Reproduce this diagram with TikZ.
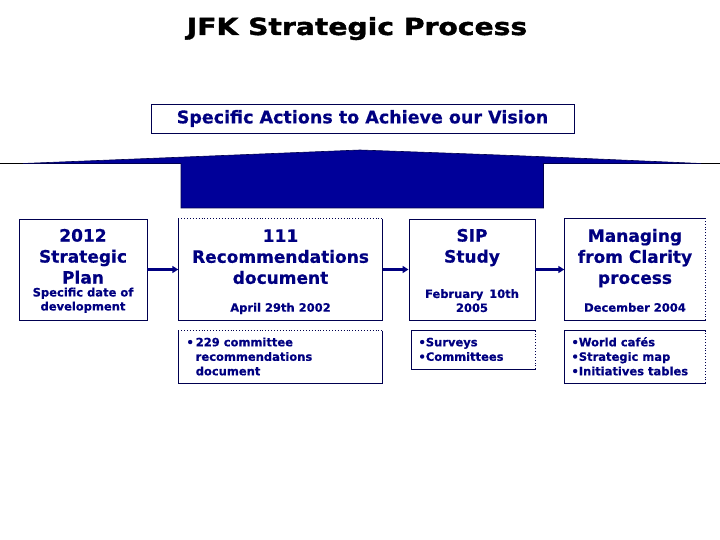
\documentclass[tikz,border=0pt]{standalone}
\usepackage{fontspec}
\setmainfont{DejaVu Sans}[BoldFeatures={FakeBold=0.6}]
\newfontfamily\titlefont{DejaVu Sans}[FakeStretch=1.2, BoldFeatures={FakeBold=1.6}]
\usetikzlibrary{arrows.meta}

\definecolor{jfknavy}{RGB}{0,0,128}
\definecolor{jfkblue}{RGB}{0,0,153}
\definecolor{jfkline}{RGB}{0,0,80}

\tikzset{
  boxline/.style={draw=jfkline, line width=0.9pt},
  stagebox/.style={rectangle, inner sep=0pt, minimum height=101pt},
  notebox/.style={rectangle, inner sep=0pt},
  headtext/.style={text=jfknavy, align=center, inner sep=0pt, anchor=base,
    font=\fontsize{17}{21}\selectfont\bfseries},
  datetext/.style={text=jfknavy, align=center, inner sep=0pt, anchor=base,
    font=\fontsize{11.5}{14}\selectfont\bfseries},
  notetext/.style={text=jfknavy, align=left, inner sep=0pt, anchor=base west,
    font=\fontsize{11.5}{14.5}\selectfont\bfseries},
  flow/.style={jfknavy, line width=2.5pt, -{Triangle[length=6pt,width=7pt]}},
}

\begin{document}
\begin{tikzpicture}[x=1pt, y=-1pt]
			\useasboundingbox (0,0) rectangle (720,540);

			% Title
			\node[anchor=base, inner sep=0pt, font=\titlefont\fontsize{23.5}{28}\selectfont\bfseries] (title) at (357,35) {JFK Strategic Process};

			% Vision banner
			\node[boxline, rectangle, inner sep=0pt, minimum width=423pt, minimum height=29pt,
				text=jfknavy, font=\fontsize{17.5}{21}\selectfont\bfseries] (vision) at (362.5,118.5) {Specific Actions to Achieve our Vision};

			% Roof and block
			\draw[black, line width=0.8pt] (0,163.5) -- (720,163.5);
			\filldraw[fill=jfkblue, draw=jfkline, line width=0.6pt] (23,163.5) .. controls (191,156) .. (360,150) .. controls (529,156) .. (701,163.5)
				-- (543.5,163.5) -- (543.5,208) -- (181,208) -- (181,163.5) -- cycle;

			% Stages
			\node[stagebox, boxline, minimum width=128pt] (plan) at (83,269.5) {};
			\node[stagebox, minimum width=204pt] (recs) at (280.5,269.5) {};
			\node[stagebox, boxline, minimum width=126pt] (sip) at (472,269.5) {};
			\node[stagebox, minimum width=141pt] (clarity) at (635,269.5) {};

			\draw[boxline] (recs.north east) -- (recs.south east) -- (recs.south west) -- (recs.north west);
			\draw[boxline, dotted] (recs.north west) -- (recs.north east);
			\draw[boxline] (clarity.north east) -- (clarity.north west) -- (clarity.south west) -- (clarity.south east);
			\draw[boxline, dotted] (clarity.south east) -- (clarity.north east);

			% (base = last line)
			\node[headtext] (planhead) at ([yshift=-65pt]plan.north) {2012\\Strategic\\Plan};
			\node[headtext] (recshead) at ([yshift=-65pt]recs.north) {111\\Recommendations\\document};
			\node[headtext] (siphead) at ([yshift=-44pt]sip.north) {SIP\\Study};
			\node[headtext] (clarityhead) at ([yshift=-65pt]clarity.north) {Managing\\from Clarity\\process};

			\node[datetext] (plandate) at ([yshift=10pt]plan.south) {Specific date of\\development};
			\node[datetext] (recsdate) at ([yshift=8.5pt]recs.south) {April 29th 2002};
			\node[datetext] (sipdate) at ([yshift=8.5pt]sip.south) {February\, 10th\\2005};
			\node[datetext] (claritydate) at ([yshift=8.5pt]clarity.south) {December 2004};

			% Arrows
			\draw[flow] (plan.east) -- (recs.west);
			\draw[flow] (recs.east) -- (sip.west);
			\draw[flow] (sip.east) -- (clarity.west);

			% Notes
			\node[notebox, minimum width=204pt, minimum height=52pt] (recsnote) at (280.5,357) {};
			\node[notebox, minimum width=124pt, minimum height=38pt] (sipnote) at (473.5,350) {};
			\node[notebox, minimum width=141pt, minimum height=52pt] (claritynote) at (635,357) {};

			\draw[boxline] (recsnote.north east) -- (recsnote.south east) -- (recsnote.south west) -- (recsnote.north west);
			\draw[boxline, dotted] (recsnote.north west) -- (recsnote.north east);
			\draw[boxline] (sipnote.north east) -- (sipnote.north west) -- (sipnote.south west) -- (sipnote.south east);
			\draw[boxline, dotted] (sipnote.south east) -- (sipnote.north east);
			\draw[boxline] (claritynote.north east) -- (claritynote.north west) -- (claritynote.south west) -- (claritynote.south east);
			\draw[boxline, dotted] (claritynote.south east) -- (claritynote.north east);

			\node[notetext] (recslist) at ([xshift=8pt, yshift=-44.5pt]recsnote.north west)
				{\textbullet\,229 committee\\\phantom{\textbullet\,}recommendations\\\phantom{\textbullet\,}document};
			\node[notetext] (siplist) at ([xshift=7pt, yshift=-30pt]sipnote.north west)
				{\textbullet Surveys\\\textbullet Committees};
			\node[notetext] (claritylist) at ([xshift=7pt, yshift=-44.5pt]claritynote.north west)
				{\textbullet World cafés\\\textbullet Strategic map\\\textbullet Initiatives tables};
		\end{tikzpicture}
\end{document}
